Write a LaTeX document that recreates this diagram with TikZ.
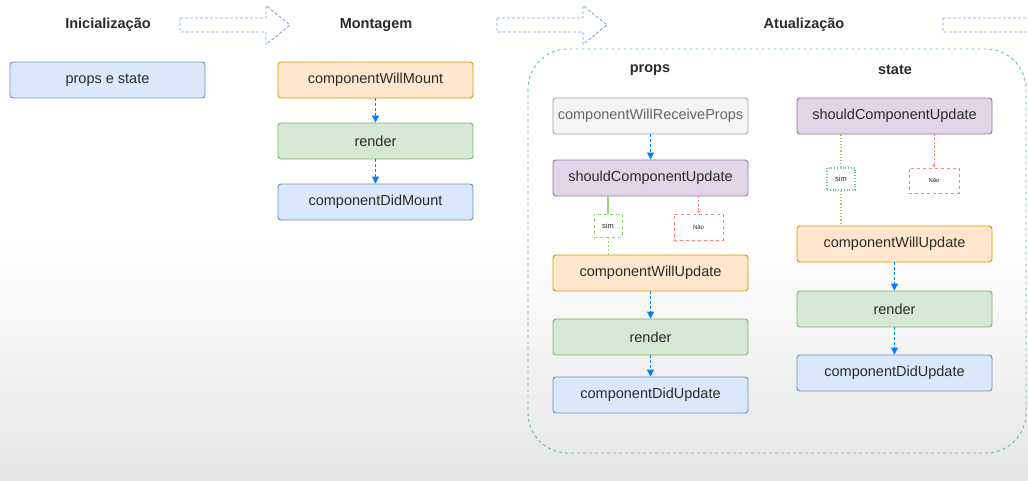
\documentclass[tikz,border=0pt]{standalone}
\usepackage{fontspec}
\setmainfont{Liberation Sans}
\usetikzlibrary{arrows.meta}
\definecolor{txt}{HTML}{2B2B2B}
\definecolor{bluefill}{HTML}{DAE8FC}
\definecolor{bluedraw}{HTML}{6C8EBF}
\definecolor{orangefill}{HTML}{FFE6CC}
\definecolor{orangedraw}{HTML}{D79B00}
\definecolor{greenfill}{HTML}{D5E8D4}
\definecolor{greendraw}{HTML}{82B366}
\definecolor{purplefill}{HTML}{E1D5E7}
\definecolor{purpledraw}{HTML}{9673A6}
\definecolor{grayfill}{HTML}{F5F5F5}
\definecolor{graydraw}{HTML}{666666}
\definecolor{flowblue}{HTML}{007FFF}
\definecolor{hollowblue}{HTML}{7EA6E0}
\definecolor{tealline}{HTML}{67BFAF}
\definecolor{simgreen}{HTML}{97D077}
\definecolor{naored}{HTML}{FF8080}

\begin{document}
\begin{tikzpicture}[
    x=1pt, y=-1pt,
    font=\fontsize{14.5}{16}\selectfont,
    title/.style={font=\fontsize{14.5}{16}\selectfont\bfseries, text=txt},
    box/.style={
      rounded corners=3pt, draw, line width=0.9pt, text=txt,
      minimum width=195pt, minimum height=36pt, inner sep=0pt
    },
    bluebox/.style={box, fill=bluefill, draw=bluedraw},
    orangebox/.style={box, fill=orangefill, draw=orangedraw},
    greenbox/.style={box, fill=greenfill, draw=greendraw},
    purplebox/.style={box, fill=purplefill, draw=purpledraw},
    graybox/.style={box, fill=grayfill, draw=graydraw!60, text=graydraw},
    choice/.style={
      draw, dashed, line width=0.8pt, inner sep=0pt, text=txt
    },
    flow/.style={
      flowblue, line width=0.9pt, dash pattern=on 3pt off 2pt,
      -{Triangle[length=7pt,width=7pt]}
    },
    phasearrow/.pic={
      \draw[hollowblue, line width=0.9pt, dash pattern=on 3pt off 2pt,
        line join=round]
        (0,-7) -- (86,-7) -- (86,-19.5) -- (110,0) -- (86,19.5)
        -- (86,7) -- (0,7) -- cycle;
    }
  ]
  \clip (0,0) rectangle (1028,480);
  \shade[top color=white, bottom color=black!10, middle color=white]
    (0,0) rectangle (1028,480);

  % titles and phase arrows
  \node[title] (tinit) at (108,25) {Inicialização};
  \node[title] (tmount) at (376,25) {Montagem};
  \node[title] (tupdate) at (804,25) {Atualização};
  \pic (arrowA) at (180,25) {phasearrow};
  \pic (arrowB) at (497,25) {phasearrow};
  \pic (arrowC) at (943,25) {phasearrow};

  % Inicialização
  \node[bluebox] (propsstate) at (107.5,80) {props e state};

  % Montagem
  \node[orangebox] (cwm) at (375.5,80) {componentWillMount};
  \node[greenbox] (rendA) at (375.5,141) {render};
  \node[bluebox] (cdm) at (375.5,202) {componentDidMount};
  \draw[flow] (cwm) -- (rendA);
  \draw[flow] (rendA) -- (cdm);

  % Atualização
  \draw[tealline, line width=0.9pt, dash pattern=on 3pt off 3pt, rounded corners=40pt]
    (528,49) rectangle (1026,453);
  \node[title] (tprops) at (650,70) {props};
  \node[title] (tstate) at (895,70) {state};

  % props
  \node[graybox] (cwrp) at (650.5,116) {componentWillReceiveProps};
  \node[purplebox] (scuA) at (650.5,178) {shouldComponentUpdate};
  \node[choice, draw=simgreen, minimum width=28pt, minimum height=23pt,
    font=\fontsize{7.5}{8}\selectfont] (simA) at (608,225.5) {sim};
  \node[choice, draw=naored, minimum width=49pt, minimum height=26pt,
    font=\fontsize{6}{7}\selectfont] (naoA) at (698.5,227) {Não};
  \node[orangebox] (cwuA) at (650.5,273) {componentWillUpdate};
  \node[greenbox] (rendB) at (650.5,337) {render};
  \node[bluebox] (cduA) at (650.5,395) {componentDidUpdate};
  \draw[flow] (cwrp) -- (scuA);
  \draw[simgreen, line width=1.2pt] (simA.north |- scuA.south) -- (simA.north);
  \draw[simgreen, line width=0.9pt, dash pattern=on 2pt off 2pt]
    (simA.south) -- (simA.south |- cwuA.north);
  \draw[naored, line width=0.8pt, dash pattern=on 2pt off 2pt,
    -{Triangle[length=3pt,width=3pt]}] (naoA.north |- scuA.south) -- (naoA.north);
  \draw[flow] (cwuA) -- (rendB);
  \draw[flow] (rendB) -- (cduA);

  % state
  \node[purplebox] (scuB) at (894.5,116) {shouldComponentUpdate};
  \node[choice, draw=tealline, dotted, line width=1.2pt, minimum width=28pt,
    minimum height=22pt, font=\fontsize{7.5}{8}\selectfont] (simB) at (841,179) {sim};
  \node[choice, draw=naored, minimum width=50pt, minimum height=25pt,
    font=\fontsize{6}{7}\selectfont] (naoB) at (934,180.5) {Não};
  \node[orangebox] (cwuB) at (894.5,244) {componentWillUpdate};
  \node[greenbox] (rendC) at (894.5,309) {render};
  \node[bluebox] (cduB) at (894.5,373) {componentDidUpdate};
  \draw[simgreen, line width=1.2pt, dotted] (simB.north |- scuB.south) -- (simB.north);
  \draw[simgreen, line width=1.2pt, dotted] (simB.south) -- (simB.south |- cwuB.north);
  \draw[naored, line width=0.8pt, dash pattern=on 2pt off 2pt,
    -{Triangle[length=3pt,width=3pt]}] (naoB.north |- scuB.south) -- (naoB.north);
  \draw[flow] (cwuB) -- (rendC);
  \draw[flow] (rendC) -- (cduB);
\end{tikzpicture}
\end{document}
